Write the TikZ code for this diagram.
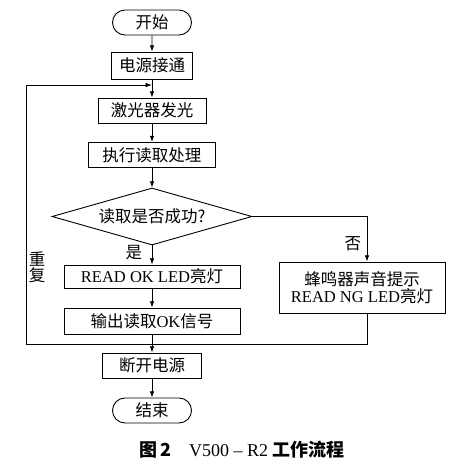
\documentclass[tikz,border=0pt]{standalone}
\usepackage{fontspec}
\setmainfont{Liberation Serif}
\newfontfamily\zh{Noto Sans CJK SC}
\usetikzlibrary{positioning,arrows.meta,shapes.geometric,shapes.misc}

\tikzset{
  box/.style={draw,line width=0.9pt,minimum height=25pt,inner sep=1pt,font=\zh\fontsize{16.5}{19}\selectfont},
  term/.style={box,rounded rectangle,minimum width=81pt},
  cond/.style={box,diamond,aspect=3.5,minimum width=200pt,minimum height=57pt,inner sep=0pt},
  flow/.style={line width=0.9pt,-{Latex[length=2.2mm,width=1.6mm]}},
  lbl/.style={font=\zh\fontsize{16.5}{19}\selectfont},
}

\begin{document}
\begin{tikzpicture}[x=1pt,y=-1pt]
\useasboundingbox (0,0) rectangle (475,466);
% main column
\node[term] (start) at (152,22.5) {开始};
\node[box,minimum width=81pt,minimum height=27pt] (power) at (152,65.5) {电源接通};
\node[box,minimum width=108pt] (laser) at (152,110.5) {激光器发光};
\node[box,minimum width=127pt] (exec) at (152,155) {执行读取处理};
\node[cond] (check) at (152,216.5) {读取是否成功?};
\node[box,minimum width=176pt,minimum height=23pt] (okled) at (152,276.5) {{\rmfamily READ OK LED}亮灯};
\node[box,minimum width=176pt,minimum height=26pt] (okout) at (152,321) {输出读取{\rmfamily OK}信号};
\node[box,minimum width=99pt] (off) at (152,365.5) {断开电源};
\node[term] (stop) at (152,410.5) {结束};
% failure branch
\node[box,minimum width=166pt,minimum height=51pt,align=center] (ngled) at (362,287.5)
  {蜂鸣器声音提示\\[-2pt]{\rmfamily READ NG LED}亮灯};
% loop corners
\coordinate (ngout) at (367,344);
\coordinate (lowleft) at (26,344);
\coordinate (upleft) at (26,85);
\coordinate (join) at (152,85);
% connectors
\draw[flow] (start) -- (power);
\draw[flow] (power) -- (laser);
\draw[flow] (laser) -- (exec);
\draw[flow] (exec) -- (check);
\draw[flow] (check.east) -| ([xshift=5pt]ngled.north) node[pos=0.8,left=2pt,lbl] {否};
\draw[flow] (check.south) -- (okled) node[pos=0.35,left=6pt,lbl] {是};
\draw[flow] (okled) -- (okout);
\draw[flow] (okout) -- (off);
\draw[flow] (off) -- (stop);
\draw[flow] ([xshift=5pt]ngled.south) -- (ngout) -- (lowleft) -- (upleft) -- (join);
\node[lbl,align=center] (again) at (37,267) {重\\[-3pt]复};
% caption
\node[font=\fontsize{18}{21}\selectfont] (cap) at (242,450)
  {{\zh\bfseries 图\,2}\quad V500 -- R2 {\zh\bfseries 工作流程}};
\end{tikzpicture}
\end{document}
